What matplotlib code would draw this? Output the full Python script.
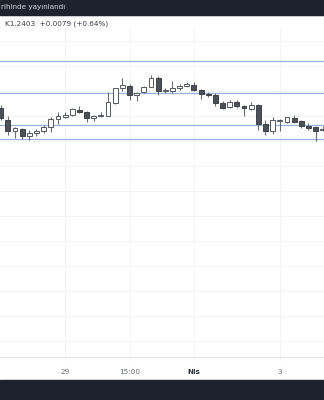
import numpy as np
import matplotlib
matplotlib.use("Agg")
import matplotlib.pyplot as plt
from matplotlib.patches import Rectangle

# hourly candles (prices)
opens = [1.2425, 1.2413, 1.2402, 1.2404, 1.2397, 1.2400, 1.2402, 1.2406, 1.2414, 1.2416,
         1.2418, 1.2423, 1.2421, 1.2415, 1.2417, 1.2417, 1.2430, 1.2445, 1.2447, 1.2438,
         1.2441, 1.2446, 1.2455, 1.2442, 1.2442, 1.2445, 1.2447, 1.2448, 1.2443, 1.2439,
         1.2438, 1.2430, 1.2426, 1.2431, 1.2427, 1.2424, 1.2428, 1.2409, 1.2402, 1.2412,
         1.2411, 1.2415, 1.2412, 1.2407, 1.2406, 1.2403]
highs = [1.2428, 1.2417, 1.2406, 1.2405, 1.2403, 1.2404, 1.2408, 1.2416, 1.2421, 1.2421,
         1.2425, 1.2427, 1.2422, 1.2418, 1.2421, 1.2441, 1.2445, 1.2455, 1.2449, 1.2441,
         1.2447, 1.2458, 1.2457, 1.2445, 1.2452, 1.2449, 1.2451, 1.2451, 1.2444, 1.2441,
         1.2440, 1.2432, 1.2433, 1.2433, 1.2428, 1.2431, 1.2429, 1.2413, 1.2416, 1.2414,
         1.2416, 1.2418, 1.2413, 1.2410, 1.2407, 1.2407]
lows = [1.2413, 1.2398, 1.2395, 1.2394, 1.2393, 1.2397, 1.2400, 1.2401, 1.2409, 1.2415,
        1.2417, 1.2420, 1.2411, 1.2412, 1.2416, 1.2417, 1.2429, 1.2442, 1.2433, 1.2432,
        1.2440, 1.2446, 1.2438, 1.2440, 1.2440, 1.2443, 1.2446, 1.2442, 1.2434, 1.2436,
        1.2427, 1.2424, 1.2425, 1.2425, 1.2417, 1.2423, 1.2403, 1.2398, 1.2399, 1.2402,
        1.2410, 1.2410, 1.2405, 1.2403, 1.2392, 1.2402]
closes = [1.2415, 1.2402, 1.2405, 1.2397, 1.2400, 1.2402, 1.2406, 1.2414, 1.2417, 1.2418,
          1.2424, 1.2421, 1.2415, 1.2417, 1.2418, 1.2431, 1.2445, 1.2448, 1.2438, 1.2440,
          1.2446, 1.2455, 1.2442, 1.2443, 1.2445, 1.2447, 1.2449, 1.2443, 1.2439, 1.2438,
          1.2430, 1.2425, 1.2431, 1.2427, 1.2425, 1.2428, 1.2409, 1.2402, 1.2413, 1.2413,
          1.2416, 1.2411, 1.2407, 1.2405, 1.2402, 1.2404]
levels = [1.2472, 1.2440, 1.2408, 1.2394]          # drawn horizontal lines
time_idx = [9, 18, 27, 39]
time_labels = ["29", "15:00", "Nis", "3"]
header = "K1.2403  +0.0079 (+0.64%)"
banner = "rihinde yayınlandı"

DARK = "#1e222d"; CANDLE = "#555861"; LEVEL = "#9db1de"; GRID = "#f3f4f7"

fig = plt.figure(figsize=(3.24, 4.0), dpi=100)
ax = fig.add_axes([0, 0, 1, 1])
ax.set_xlim(-0.1, 45.18)
ax.set_ylim(1.2133, 1.2533)
ax.axis("off")

# faint grid
for y in np.arange(1.2367, 1.2180, -0.0025):
    ax.axhline(y, color=GRID, lw=0.8, zorder=0)
for y in np.arange(1.2392, 1.2520, 0.0025):
    ax.axhline(y, color=GRID, lw=0.8, zorder=0)
for i in time_idx:
    ax.axvline(i, ymin=0.1, ymax=0.93, color=GRID, lw=0.8, zorder=0)

for lv in levels:
    ax.axhline(lv, color=LEVEL, lw=0.9, zorder=1)

x = np.arange(len(opens))
o = np.array(opens); h = np.array(highs); l = np.array(lows); c = np.array(closes)
ax.vlines(x, l, h, color="#6a6d76", lw=0.8, zorder=2)
up = c >= o
bot = np.minimum(o, c); ht = np.maximum(np.abs(c - o), 0.00008)
ax.bar(x[up], ht[up], bottom=bot[up], width=0.68, color="white", edgecolor=CANDLE, lw=0.7, zorder=3)
ax.bar(x[~up], ht[~up], bottom=bot[~up], width=0.68, color="#4e5058", edgecolor="#3f4148", lw=0.7, zorder=3)

# time axis
ax.axhline(1.2533 - 0.0357, color="#e6e8ec", lw=0.8, zorder=1)
for i, t in zip(time_idx, time_labels):
    ax.text(i, 1.2533 - 0.0372, t, ha="center", va="center", fontsize=5.2,
            color="#2a2e39" if t == "Nis" else "#6a6d78",
            fontweight="bold" if t == "Nis" else "normal", zorder=5)

# top / bottom dark bands
fig.patches.append(Rectangle((0, 1 - 15 / 400), 1, 15 / 400, transform=fig.transFigure,
                             color=DARK, zorder=10))
fig.patches.append(Rectangle((0, 0), 1, 20 / 400, transform=fig.transFigure,
                             color=DARK, zorder=10))
fig.text(0.002, 1 - 7.5 / 400, banner, fontsize=5.2, color="#d6d8de", va="center", zorder=11)
fig.text(0.015, 1 - 24 / 400, header, fontsize=5.2, color="#3a3d46", va="center", zorder=11)

fig.savefig("out.png", dpi=100)
